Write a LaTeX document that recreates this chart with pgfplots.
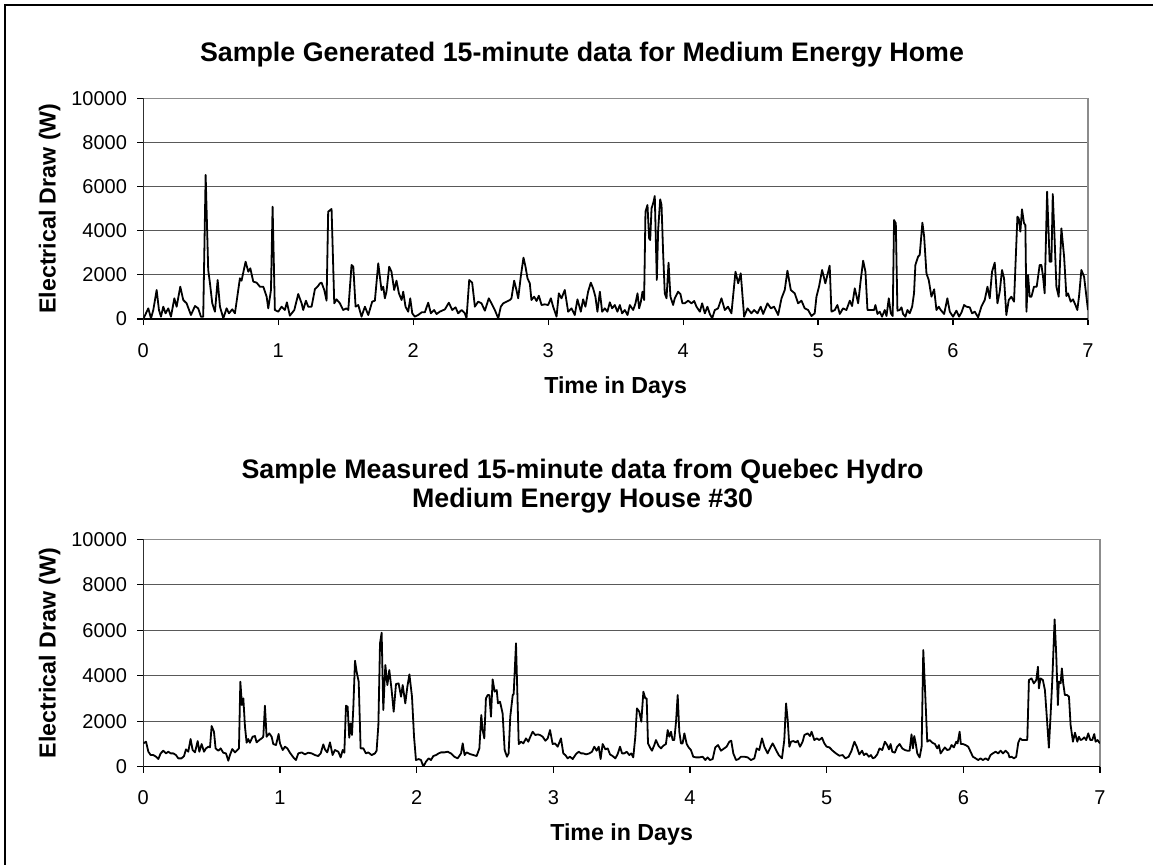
\documentclass[border=0pt]{standalone}
\usepackage{fontspec}
\setmainfont{Liberation Sans}
\usepackage{pgfplots}
\pgfplotsset{compat=1.18}
\begin{document}
\begin{tikzpicture}
\useasboundingbox (0,0) rectangle (576.5pt,-432pt);
\draw[line width=1pt] (2.65pt,-440pt) -- (2.65pt,-2.65pt) -- (590pt,-2.65pt);
\pgfplotsset{
 myaxis/.style={
  scale only axis, xmin=0, xmax=7, ymin=0, ymax=10000,
  xtick={0,1,2,3,4,5,6,7}, ytick={0,2000,4000,6000,8000,10000},
  scaled y ticks=false,
  ymajorgrids, major grid style={black!65,line width=0.6pt},
  axis line style={black!45,line width=0.6pt},
  tick align=outside, major tick length=3pt,
  xtick pos=left, ytick pos=left,
  tick style={black,line width=0.6pt},
  /pgf/number format/assume math mode=true,
  /pgf/number format/set thousands separator={},
  ticklabel style={font=\fontsize{10}{12}\selectfont},
  xticklabel style={anchor=base, yshift=-16pt},
  yticklabel style={anchor=east, inner sep=0pt, xshift=-5pt},
 }
}
% ---------- top axis ----------
\begin{axis}[myaxis, at={(71.65pt,-159.5pt)}, anchor=south west, width=472.35pt, height=110.35pt]
\addplot[black, line width=0.9pt, line join=round] table {
0.000 0
0.037 483
0.057 30
0.074 408
0.099 1314
0.116 408
0.131 106
0.148 559
0.165 257
0.185 483
0.205 106
0.230 937
0.247 559
0.274 1465
0.296 861
0.321 710
0.353 181
0.383 589
0.407 483
0.427 106
0.444 106
0.462 6526
0.481 2221
0.494 1616
0.511 710
0.531 332
0.551 1767
0.568 559
0.593 30
0.617 483
0.635 257
0.659 438
0.679 257
0.716 1843
0.728 1737
0.758 2598
0.778 2145
0.793 2296
0.815 1692
0.840 1647
0.864 1465
0.889 1465
0.914 1012
0.926 483
0.946 1314
0.958 5091
0.975 408
1.000 332
1.025 559
1.049 408
1.064 755
1.086 151
1.119 408
1.148 1133
1.173 710
1.185 408
1.205 831
1.222 559
1.247 559
1.272 1360
1.291 1465
1.309 1616
1.321 1647
1.341 1314
1.358 831
1.370 4864
1.395 4985
1.415 710
1.432 891
1.457 710
1.481 408
1.506 483
1.519 408
1.543 2447
1.556 2372
1.573 559
1.593 634
1.617 106
1.642 559
1.667 181
1.696 786
1.716 831
1.741 2523
1.765 1314
1.778 1465
1.790 937
1.802 1239
1.822 2372
1.839 2145
1.859 1314
1.876 1737
1.894 1163
1.914 861
1.926 1239
1.943 559
1.963 332
1.978 937
1.993 257
2.012 106
2.037 181
2.062 302
2.086 302
2.111 740
2.131 257
2.155 408
2.173 227
2.197 332
2.235 438
2.264 740
2.289 408
2.314 529
2.333 257
2.358 408
2.383 257
2.395 30
2.415 1767
2.437 1647
2.457 559
2.481 786
2.506 710
2.531 378
2.560 937
2.580 710
2.605 408
2.630 30
2.649 559
2.667 710
2.691 786
2.716 861
2.728 937
2.748 1737
2.765 1314
2.778 937
2.797 1918
2.817 2780
2.832 2372
2.847 1843
2.864 1616
2.876 861
2.896 1012
2.914 816
2.931 1057
2.951 634
2.975 665
3.000 634
3.020 937
3.037 559
3.062 106
3.079 1163
3.099 937
3.123 1314
3.148 332
3.173 483
3.197 181
3.217 891
3.242 332
3.259 891
3.276 559
3.296 1239
3.316 1647
3.333 1390
3.350 1012
3.365 332
3.383 1239
3.400 332
3.420 483
3.439 332
3.457 755
3.474 483
3.494 634
3.513 332
3.531 634
3.548 257
3.568 408
3.588 181
3.605 634
3.630 408
3.647 710
3.662 1163
3.674 483
3.687 786
3.699 1239
3.711 861
3.721 4864
3.736 5166
3.748 3656
3.756 3580
3.766 5015
3.778 5242
3.790 5574
3.805 1767
3.815 4033
3.830 5423
3.840 5166
3.852 2976
3.864 1163
3.877 937
3.892 2553
3.906 1012
3.926 634
3.938 937
3.963 1239
3.980 1133
3.995 710
4.012 710
4.037 831
4.062 710
4.082 816
4.099 559
4.124 332
4.141 710
4.161 257
4.180 559
4.198 227
4.215 30
4.235 408
4.259 483
4.284 937
4.309 408
4.333 559
4.358 257
4.388 2145
4.408 1616
4.427 2070
4.452 106
4.477 483
4.506 257
4.526 408
4.551 257
4.575 559
4.593 227
4.625 710
4.650 483
4.674 559
4.704 181
4.729 937
4.753 1314
4.773 2190
4.798 1314
4.827 1163
4.852 710
4.877 831
4.901 483
4.926 408
4.951 136
4.975 257
4.988 1012
5.007 1465
5.030 2221
5.054 1616
5.086 2417
5.099 332
5.124 408
5.143 634
5.161 227
5.185 483
5.210 408
5.235 831
5.252 589
5.272 1390
5.297 710
5.316 1767
5.334 2644
5.351 2145
5.366 408
5.391 408
5.415 408
5.425 634
5.440 227
5.457 332
5.474 106
5.494 408
5.507 136
5.524 937
5.539 257
5.553 136
5.563 4486
5.576 4335
5.588 378
5.605 408
5.618 529
5.630 227
5.647 106
5.662 408
5.679 257
5.697 559
5.711 1163
5.721 2447
5.741 2825
5.753 2900
5.773 4366
5.786 3731
5.803 2070
5.820 1767
5.840 1012
5.860 1344
5.877 408
5.894 559
5.909 408
5.934 227
5.958 937
5.976 332
6.000 106
6.025 378
6.045 106
6.062 287
6.082 634
6.099 559
6.124 529
6.141 257
6.161 332
6.186 76
6.210 559
6.235 861
6.255 1465
6.272 937
6.289 2145
6.309 2553
6.329 710
6.346 1239
6.363 2221
6.378 1843
6.395 181
6.413 861
6.432 1012
6.452 786
6.477 4638
6.487 4562
6.499 3958
6.511 4970
6.526 4335
6.536 4260
6.544 332
6.556 1994
6.568 1012
6.581 1012
6.600 1465
6.620 1465
6.642 2447
6.655 2447
6.667 1918
6.679 1163
6.697 5770
6.716 2598
6.729 2598
6.739 5665
6.753 3580
6.766 1465
6.783 1012
6.803 4109
6.823 2825
6.840 1042
6.852 1163
6.872 786
6.889 891
6.907 634
6.921 408
6.934 1042
6.951 2221
6.971 1918
7.000 408
};
\draw[black, line width=0.7pt] (rel axis cs:0,1) -- (rel axis cs:0,0) -- (rel axis cs:1,0);
\end{axis}
% ---------- bottom axis ----------
\begin{axis}[myaxis, at={(71.65pt,-383.35pt)}, anchor=south west, width=478.35pt, height=113.7pt]
\addplot[black, line width=0.9pt, line join=round] table {
0.000 1026
0.020 1100
0.037 660
0.054 513
0.073 513
0.093 440
0.110 337
0.127 586
0.146 704
0.166 586
0.183 660
0.200 586
0.220 586
0.239 513
0.256 367
0.280 367
0.298 469
0.312 762
0.329 660
0.346 1217
0.361 733
0.378 630
0.398 1129
0.410 660
0.427 997
0.444 660
0.459 806
0.476 880
0.488 850
0.500 1789
0.517 1539
0.529 806
0.549 704
0.566 806
0.585 616
0.605 586
0.622 264
0.634 513
0.651 777
0.671 630
0.688 733
0.700 806
0.710 3738
0.722 2712
0.732 3005
0.744 1759
0.756 1056
0.768 1217
0.780 1056
0.800 1319
0.817 1349
0.829 1070
0.849 1173
0.866 1246
0.878 1319
0.890 2683
0.902 1319
0.922 1466
0.939 1319
0.951 997
0.971 953
0.990 1437
1.000 1026
1.020 733
1.037 880
1.054 806
1.073 616
1.098 410
1.117 293
1.134 586
1.159 630
1.183 542
1.207 616
1.232 586
1.256 513
1.280 469
1.298 586
1.317 982
1.329 762
1.346 630
1.366 1070
1.385 513
1.402 733
1.427 660
1.444 410
1.459 733
1.471 616
1.483 2683
1.495 2639
1.507 1275
1.517 1906
1.527 1393
1.537 2639
1.549 4662
1.561 4178
1.576 3738
1.590 806
1.610 806
1.629 586
1.646 630
1.671 513
1.695 586
1.707 704
1.720 1833
1.732 5424
1.744 5893
1.756 2492
1.771 4471
1.786 3592
1.800 4251
1.817 3372
1.832 2419
1.849 3636
1.868 3665
1.886 3079
1.898 3592
1.917 2785
1.932 3518
1.947 4061
1.966 3079
1.981 1319
1.995 293
2.015 337
2.032 293
2.049 0
2.068 220
2.088 367
2.105 293
2.122 469
2.142 513
2.161 586
2.178 630
2.203 630
2.227 660
2.251 586
2.276 440
2.300 367
2.325 586
2.337 1026
2.351 513
2.366 630
2.390 557
2.415 513
2.439 469
2.459 806
2.473 2272
2.483 1613
2.495 1246
2.507 3005
2.520 3152
2.532 3152
2.544 2199
2.556 3841
2.571 3299
2.586 3372
2.595 2785
2.610 2859
2.629 2346
2.644 733
2.661 440
2.673 586
2.685 2199
2.703 3152
2.710 3196
2.727 5424
2.747 997
2.764 1100
2.781 1026
2.800 1246
2.817 1100
2.832 1319
2.849 1539
2.868 1393
2.886 1422
2.903 1393
2.922 1319
2.942 1143
2.959 1246
2.976 1613
2.995 997
3.012 1026
3.032 880
3.056 1246
3.073 586
3.088 513
3.105 367
3.122 440
3.142 337
3.166 557
3.186 660
3.203 586
3.220 586
3.239 542
3.264 586
3.283 660
3.300 880
3.317 704
3.332 880
3.346 337
3.361 997
3.381 762
3.398 806
3.415 542
3.434 469
3.454 367
3.471 557
3.488 880
3.503 586
3.520 586
3.537 660
3.556 513
3.571 586
3.585 410
3.600 1319
3.612 2566
3.629 2419
3.644 1979
3.659 3299
3.673 3005
3.683 3005
3.693 1026
3.707 850
3.722 704
3.739 953
3.751 1173
3.771 909
3.788 806
3.805 924
3.824 997
3.837 1613
3.849 1319
3.861 1539
3.873 1173
3.885 1173
3.898 1979
3.910 3152
3.922 1539
3.934 1026
3.946 1026
3.959 1466
3.976 997
3.990 850
4.007 733
4.024 440
4.044 410
4.068 410
4.093 440
4.112 293
4.129 410
4.146 293
4.166 337
4.185 850
4.205 953
4.227 704
4.244 777
4.268 880
4.288 1100
4.302 1143
4.317 586
4.337 293
4.356 337
4.373 440
4.398 440
4.422 410
4.446 293
4.471 367
4.488 806
4.507 733
4.527 1246
4.544 880
4.568 586
4.585 806
4.605 1026
4.624 806
4.649 513
4.673 367
4.690 1173
4.703 2785
4.715 2052
4.727 880
4.739 1100
4.756 1129
4.776 1070
4.788 1143
4.805 880
4.824 1100
4.837 1393
4.861 1466
4.878 1349
4.890 1539
4.910 1173
4.927 1246
4.946 1173
4.966 1275
4.983 1026
5.000 880
5.020 850
5.044 704
5.068 586
5.093 484
5.117 513
5.137 367
5.161 440
5.181 689
5.203 1100
5.220 880
5.239 542
5.259 704
5.273 513
5.290 586
5.309 440
5.324 513
5.338 367
5.353 410
5.370 542
5.387 806
5.407 733
5.426 1100
5.443 953
5.456 762
5.468 997
5.480 660
5.499 616
5.516 880
5.534 997
5.553 806
5.573 733
5.590 704
5.607 704
5.621 1422
5.631 806
5.641 1349
5.651 1056
5.663 586
5.680 410
5.695 880
5.707 5131
5.719 3518
5.736 1100
5.753 1173
5.773 1056
5.792 997
5.809 806
5.821 953
5.834 586
5.851 733
5.865 850
5.882 733
5.899 762
5.914 953
5.931 850
5.948 1100
5.958 1026
5.973 1539
5.982 997
5.997 997
6.016 953
6.036 880
6.053 660
6.070 440
6.090 367
6.109 293
6.126 367
6.143 293
6.163 367
6.182 293
6.199 513
6.216 586
6.236 660
6.255 586
6.273 704
6.290 586
6.309 704
6.329 586
6.338 410
6.353 440
6.370 367
6.387 440
6.402 1056
6.416 1246
6.431 1173
6.451 1173
6.468 1173
6.480 3812
6.499 3885
6.516 3665
6.534 3812
6.546 4398
6.553 3445
6.565 3885
6.582 3812
6.597 3372
6.609 2346
6.626 836
6.638 2199
6.651 3812
6.668 6480
6.680 4911
6.692 2712
6.699 3738
6.712 3665
6.721 4325
6.731 3665
6.743 3152
6.760 3152
6.773 3079
6.785 1833
6.802 1100
6.817 1495
6.834 1100
6.846 1319
6.858 1173
6.870 1202
6.885 1290
6.899 1173
6.914 1466
6.929 1173
6.943 1173
6.958 1437
6.968 1100
6.982 1173
7.000 1026
};
\draw[black, line width=0.7pt] (rel axis cs:0,1) -- (rel axis cs:0,0) -- (rel axis cs:1,0);
\end{axis}
% ---------- titles and labels ----------
\node[anchor=base, font=\fontsize{13.4}{16}\selectfont\bfseries] at (291pt,-30.85pt) {Sample Generated 15-minute data for Medium Energy Home};
\node[anchor=base, font=\fontsize{13.4}{16}\selectfont\bfseries] at (291.3pt,-239.15pt) {Sample Measured 15-minute data from Quebec Hydro};
\node[anchor=base, font=\fontsize{13.4}{16}\selectfont\bfseries] at (291.3pt,-253.9pt) {Medium Energy House \#30};
\node[anchor=base, font=\fontsize{11.6}{14}\selectfont\bfseries] at (307.8pt,-196.5pt) {Time in Days};
\node[anchor=base, font=\fontsize{11.6}{14}\selectfont\bfseries] at (310.8pt,-420.35pt) {Time in Days};
\node[anchor=base, rotate=90, font=\fontsize{11.6}{14}\selectfont\bfseries] at (27.75pt,-104.3pt) {Electrical Draw (W)};
\node[anchor=base, rotate=90, font=\fontsize{11.6}{14}\selectfont\bfseries] at (27.75pt,-326.5pt) {Electrical Draw (W)};
\end{tikzpicture}
\end{document}
